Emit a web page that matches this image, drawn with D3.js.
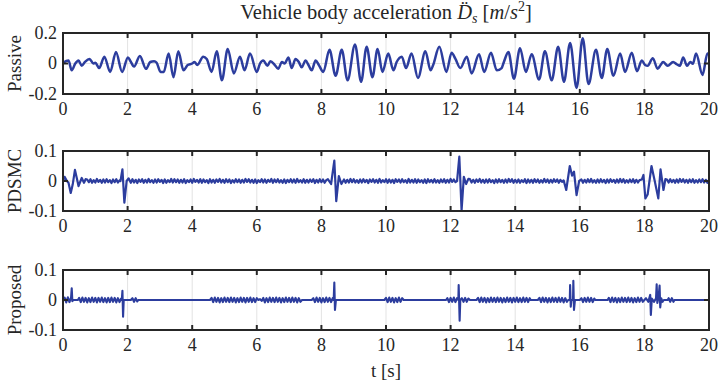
<!DOCTYPE html>
<html>
<head>
<meta charset="utf-8">
<script src="https://cdn.jsdelivr.net/npm/d3@7"></script>
<style>
body { margin: 0; background: #fff; }
svg { display: block; font-family: "Liberation Serif", "Times New Roman", serif; }
</style>
</head>
<body>
<div id="chart"></div>
<script>
// tick labels
const timeTicks = [0, 2, 4, 6, 8, 10, 12, 14, 16, 18, 20];
const passiveTicks = [-0.2, 0, 0.2];
const smallTicks = [-0.1, 0, 0.1];

// [t, value]
const passive = [
  [0,0.005],[0.17,0.02],[0.27,-0.045],[0.38,0.0],[0.48,0.02],[0.58,-0.015],[0.68,0.01],[0.82,0.03],[0.94,0.0],[1.0,0.005],
  [1.12,-0.03],[1.28,0.045],[1.46,-0.055],[1.64,0.075],[1.83,-0.055],[2.01,0.04],[2.09,0.015],[2.2,-0.02],[2.38,0.05],[2.57,-0.035],
  [2.7,0.01],[2.82,0.015],[2.9,0.005],[3.02,-0.055],[3.12,-0.055],[3.27,0.065],[3.42,-0.09],[3.57,0.08],[3.73,-0.045],[3.86,-0.01],
  [4.0,0.0],[4.07,0.01],[4.16,-0.01],[4.34,0.045],[4.45,0.03],[4.6,-0.055],[4.76,0.08],[4.92,-0.11],[5.1,0.095],[5.29,-0.065],
  [5.48,0.045],[5.62,-0.045],[5.79,0.065],[6.0,-0.055],[6.1,0.0],[6.2,0.02],[6.33,-0.015],[6.42,0.015],[6.56,-0.01],[6.66,-0.035],
  [6.78,0.01],[6.86,0.0],[6.98,0.04],[7.08,-0.03],[7.2,0.03],[7.3,0.01],[7.39,-0.025],[7.51,0.02],[7.6,-0.01],[7.7,-0.045],
  [7.82,0.02],[7.92,-0.01],[8.06,-0.055],[8.25,0.09],[8.44,-0.08],[8.63,0.09],[8.81,-0.11],[9.04,0.125],[9.23,-0.12],[9.4,0.11],
  [9.58,-0.09],[9.74,0.095],[9.89,-0.055],[10.07,0.065],[10.23,-0.045],[10.33,0.01],[10.49,0.045],[10.62,-0.03],[10.79,0.065],[10.99,-0.095],
  [11.22,0.08],[11.38,-0.045],[11.46,-0.01],[11.65,0.11],[11.87,-0.055],[12.03,0.07],[12.15,0.03],[12.3,-0.03],[12.5,0.045],[12.65,-0.065],
  [12.88,0.06],[13.04,-0.055],[13.25,0.07],[13.43,-0.045],[13.58,-0.03],[13.65,0.01],[13.79,0.075],[13.96,-0.1],[14.15,0.1],[14.33,-0.055],
  [14.51,0.06],[14.74,-0.105],[14.92,0.08],[15.13,-0.11],[15.33,0.11],[15.51,-0.12],[15.7,0.135],[15.9,-0.16],[16.09,0.165],[16.27,-0.135],
  [16.5,0.09],[16.68,-0.095],[16.85,0.095],[17.04,-0.08],[17.25,0.065],[17.4,-0.055],[17.61,0.07],[17.77,-0.05],[17.92,0.02],[18.02,-0.01],
  [18.1,-0.015],[18.26,0.035],[18.41,-0.035],[18.5,-0.01],[18.58,0.01],[18.72,-0.015],[18.89,0.01],[19.0,-0.005],[19.1,-0.015],[19.2,0.04],
  [19.32,-0.015],[19.42,0.01],[19.5,-0.002],[19.6,0.065],[19.8,-0.075],[19.95,0.065],[20,0.06]
];

// PDSMC: transients as [t, value]
const pdsmcEvents = [
  [0,0],[0.05,0.014],[0.12,0.0],[0.17,-0.006],[0.24,-0.04],[0.3,-0.012],[0.37,0.037],[0.43,0.008],[0.48,-0.017],[0.58,0.01],[0.65,-0.006],[0.7,0.006],
  [1.78,0.0],[1.84,0.039],[1.9,-0.072],[1.97,0.0],[2.03,0.009],[2.1,-0.006],
  [8.2,0.006],[8.3,-0.01],[8.4,0.068],[8.46,-0.067],[8.54,0.016],[8.62,-0.01],
  [12.2,0.0],[12.27,0.081],[12.34,-0.097],[12.41,0.014],[12.48,-0.01],[12.55,0.007],
  [15.5,0.002],[15.58,-0.03],[15.69,0.05],[15.76,0.018],[15.82,0.031],[15.9,-0.047],[15.98,0.0],
  [17.92,0.005],[17.97,0.02],[18.03,-0.058],[18.1,-0.045],[18.22,0.05],[18.32,0.0],[18.43,-0.058],[18.5,0.039],[18.59,-0.03],[18.65,0.006]
];
// PDSMC: chatter between transients, sampled every 0.05 s, values in 1e-3 m/s^2
const pdsmcChatter = [
  { start: 0.75, v: [5,-4,6,-6,3,-5,7,-3,4,-6,5,-5,6,-4,3,-7,5,-4,6,-5,2] },
  { start: 2.15, v: [
    6,-5,4,-7,5,-3,6,-6,4,-5,7,-4,3,-6,5,-5,6,-3,4,-7,
    5,-6,3,-4,7,-5,6,-4,5,-6,4,-5,6,-7,3,-4,5,-6,7,-3,
    4,-5,6,-6,5,-4,3,-7,6,-5,4,-6,5,-3,7,-5,4,-6,6,-4,
    5,-7,3,-5,6,-4,5,-6,4,-5,7,-3,6,-5,4,-6,5,-7,3,-4,
    6,-5,5,-6,4,-3,7,-6,5,-4,6,-5,3,-6,5,-7,4,-4,6,-5,
    5,-6,7,-4,3,-5,6,-6,4,-5,5,-3,6,-7,4,-5,6,-4,5,-6,3] },
  { start: 8.7, v: [
    5,-6,4,-5,7,-4,6,-5,3,-6,5,-5,6,-4,4,-7,5,-3,6,-5,
    4,-6,7,-5,3,-4,6,-6,5,-5,4,-7,6,-3,5,-5,6,-4,3,-6,
    7,-5,4,-5,6,-6,5,-4,3,-6,5,-7,6,-4,4,-5,6,-5,3,-6,
    5,-4,6,-6,4,-5,7,-3,5,-4] },
  { start: 12.6, v: [
    6,-5,4,-6,5,-3,7,-5,4,-6,5,-5,6,-4,3,-7,5,-5,6,-4,
    4,-6,5,-5,7,-3,6,-6,4,-5,5,-6,3,-4,6,-7,5,-5,4,-6,
    6,-4,5,-6,3,-5,7,-4,5,-6,4,-5,6,-3,5,-6,4,-3] },
  { start: 16.05, v: [
    5,-6,4,-5,6,-4,7,-5,3,-6,5,-5,6,-4,4,-7,5,-5,6,-3,
    4,-6,5,-5,7,-4,6,-6,3,-5,5,-4,6,-6,4,-5,3] },
  { start: 18.7, v: [
    5,-5,6,-4,4,-6,5,-5,7,-3,6,-5,4,-6,5,-4,6,-6,3,-5,
    5,-4,6,-5,4,-6,4] }
];

// Proposed: spikes and quiet stretches as [t, value]
const proposedEvents = [
  [0.27,0.039],[0.29,-0.004],[0.32,0],[0.46,0],
  [1.82,0],[1.84,0.031],[1.86,-0.056],[1.88,0],[2.1,0],
  [2.33,0],[4.55,0],
  [6.05,0],[6.1,0.003],[6.15,-0.003],
  [7.4,0],[7.7,0],
  [8.38,0],[8.4,0.058],[8.42,-0.033],[8.45,0],[9.95,0],
  [10.55,0],[11.86,0],
  [12.24,0],[12.25,0.05],[12.28,-0.069],[12.3,0],
  [12.6,0],[12.8,0],
  [14.48,0],[14.7,0],
  [15.64,0],[15.69,0],[15.7,0.05],[15.72,-0.022],[15.74,0],[15.79,0],[15.8,0.064],[15.82,-0.033],[15.85,0],[16.0,0],
  [16.48,0],[16.86,0],
  [18.0,0],[18.05,0.006],[18.12,-0.006],[18.18,0.017],[18.2,-0.05],[18.23,0.005],[18.3,-0.006],[18.36,0.006],[18.38,0.052],
  [18.4,-0.01],[18.44,0.01],[18.47,0.048],[18.49,-0.025],[18.52,0.006],[18.56,-0.006],[18.6,0],[18.72,0],
  [18.93,0],[20,0]
];
// Proposed: chattering bursts, sampled every 0.05 s, values in 1e-3 m/s^2
const proposedChatter = [
  { start: 0.0, v: [0,8,-8,9,-7,8] },
  { start: 0.5, v: [7,-7,8,-6,7,-8,6,-7,8,-6,7,-8,7,-6,8,-7,6,-8,7,-7,8,-6,7,-8,6,-7,5] },
  { start: 2.15, v: [6,-6,6,-5] },
  { start: 4.6, v: [7,-7,8,-6,7,-8,6,-7,8,-6,7,-7,8,-6,7,-8,6,-7,8,-6,7,-8,7,-6,8,-7,6,-7,6] },
  { start: 6.2, v: [7,-8,6,-7,8,-6,7,-7,8,-6,7,-8,6,-7,8,-6,7,-7,8,-6,7,-8,6,-6] },
  { start: 7.75, v: [6,-7,8,-6,7,-8,6,-7,8,-6,7,-7,6] },
  { start: 10.0, v: [7,-7,8,-6,7,-8,6,-7,8,-6,6] },
  { start: 11.9, v: [6,-7,7,-6,8,-7,6] },
  { start: 12.35, v: [6,-6,7,-6,5] },
  { start: 12.85, v: [7,-7,8,-6,7,-8,6,-7,8,-6,7,-7,8,-6,7,-8,6,-7,8,-6,7,-8,7,-6,8,-7,6,-7,8,-6,7,-7,6] },
  { start: 14.75, v: [7,-7,8,-6,7,-8,6,-7,8,-6,7,-7,8,-6,7,-8,6,-6] },
  { start: 16.05, v: [6,-7,7,-6,8,-6,7,-7,5] },
  { start: 16.9, v: [7,-7,8,-6,7,-8,6,-7,8,-6,7,-7,8,-6,7,-8,6,-7,8,-6,7,-6] },
  { start: 18.75, v: [6,-6,6,-6] }
];

const W = 719, H = 384;
const ink = '#262626';
const blue = '#2c3d9e';
const step = 0.05;

// join the sampled chatter with the transient points, in time order
function series(events, chatter) {
  let pts = events.slice();
  chatter.forEach(seg => {
    seg.v.forEach((v, i) => pts.push([+(seg.start + i * step).toFixed(3), v / 1000]));
  });
  return pts.sort((a, b) => a[0] - b[0]);
}

const svg = d3.select('#chart').append('svg')
  .attr('width', W)
  .attr('height', H);

class Panel {
  // option: top, bottom, data, yTicks, label, curve, lineWidth
  constructor(option) {
    for (let [key, value] of Object.entries(option)) {
      this[key] = value;
    }
    this.left = 63;
    this.right = 709;
    this.g = svg.append('g');
    this.creatScale();
    this.creatGrid();
    this.creatLine();
    this.creatAxis();
  }
  creatScale() {
    this.x = d3.scaleLinear().domain([0, 20]).range([this.left, this.right]);
    this.y = d3.scaleLinear().domain(d3.extent(this.yTicks)).range([this.bottom, this.top]);
  }
  creatGrid() {
    this.g.selectAll('.vgrid')
      .data(timeTicks.slice(1, -1))
      .enter().append('line')
      .attr('x1', d => this.x(d)).attr('x2', d => this.x(d))
      .attr('y1', this.top).attr('y2', this.bottom)
      .attr('stroke', '#e3e3e3').attr('stroke-width', 1);
    this.g.selectAll('.hgrid')
      .data(this.yTicks.slice(1, -1))
      .enter().append('line')
      .attr('x1', this.left).attr('x2', this.right)
      .attr('y1', d => this.y(d)).attr('y2', d => this.y(d))
      .attr('stroke', '#e3e3e3').attr('stroke-width', 1);
  }
  creatLine() {
    let line = d3.line()
      .x(d => this.x(d[0]))
      .y(d => this.y(d[1]))
      .curve(this.curve);
    this.g.append('path')
      .datum(this.data)
      .attr('d', line)
      .attr('fill', 'none')
      .attr('stroke', blue)
      .attr('stroke-width', this.lineWidth)
      .attr('stroke-linejoin', 'round');
  }
  creatAxis() {
    let tl = 5;
    let ticks = this.g.append('g').attr('stroke', ink).attr('stroke-width', 2);
    timeTicks.forEach(d => {
      ticks.append('line').attr('x1', this.x(d)).attr('x2', this.x(d))
        .attr('y1', this.top).attr('y2', this.top + tl);
      ticks.append('line').attr('x1', this.x(d)).attr('x2', this.x(d))
        .attr('y1', this.bottom).attr('y2', this.bottom - tl);
    });
    this.yTicks.forEach(d => {
      ticks.append('line').attr('x1', this.left).attr('x2', this.left + tl)
        .attr('y1', this.y(d)).attr('y2', this.y(d));
      ticks.append('line').attr('x1', this.right).attr('x2', this.right - tl)
        .attr('y1', this.y(d)).attr('y2', this.y(d));
    });
    this.g.append('rect')
      .attr('x', this.left).attr('y', this.top)
      .attr('width', this.right - this.left).attr('height', this.bottom - this.top)
      .attr('fill', 'none').attr('stroke', ink).attr('stroke-width', 2);

    this.g.selectAll('.xlab')
      .data(timeTicks)
      .enter().append('text')
      .attr('x', d => this.x(d))
      .attr('y', this.bottom + 21)
      .attr('text-anchor', 'middle')
      .attr('font-size', 18)
      .attr('fill', ink)
      .text(d => d);
    this.g.selectAll('.ylab')
      .data(this.yTicks)
      .enter().append('text')
      .attr('x', this.left - 6)
      .attr('y', d => this.y(d))
      .attr('dy', '0.33em')
      .attr('text-anchor', 'end')
      .attr('font-size', 18)
      .attr('fill', ink)
      .text(d => String(d));
    this.g.append('text')
      .attr('transform', `translate(21,${(this.top + this.bottom) / 2}) rotate(-90)`)
      .attr('text-anchor', 'middle')
      .attr('font-size', 19)
      .attr('fill', ink)
      .text(this.label);
  }
}

new Panel({ top: 33, bottom: 94, data: passive, yTicks: passiveTicks, label: 'Passive', curve: d3.curveMonotoneX, lineWidth: 2.5 });
new Panel({ top: 151, bottom: 211, data: series(pdsmcEvents, pdsmcChatter), yTicks: smallTicks, label: 'PDSMC', curve: d3.curveLinear, lineWidth: 2.2 });
new Panel({ top: 270, bottom: 330, data: series(proposedEvents, proposedChatter), yTicks: smallTicks, label: 'Proposed', curve: d3.curveLinear, lineWidth: 2.1 });

// title
let title = svg.append('text')
  .attr('x', 386).attr('y', 19)
  .attr('text-anchor', 'middle')
  .attr('font-size', 20.5)
  .attr('fill', ink);
title.append('tspan').text('Vehicle body acceleration ');
title.append('tspan').attr('font-style', 'italic').text('D\u0308');
title.append('tspan').attr('font-style', 'italic').attr('font-size', 14).attr('dy', 4).text('s');
title.append('tspan').attr('dy', -4).text(' [');
title.append('tspan').attr('font-style', 'italic').text('m');
title.append('tspan').text('/');
title.append('tspan').attr('font-style', 'italic').text('s');
title.append('tspan').attr('font-size', 14).attr('dy', -8).text('2');
title.append('tspan').attr('dy', 8).text(']');

svg.append('text')
  .attr('x', 386).attr('y', 377)
  .attr('text-anchor', 'middle')
  .attr('font-size', 19)
  .attr('fill', ink)
  .text('t [s]');
</script>
</body>
</html>
